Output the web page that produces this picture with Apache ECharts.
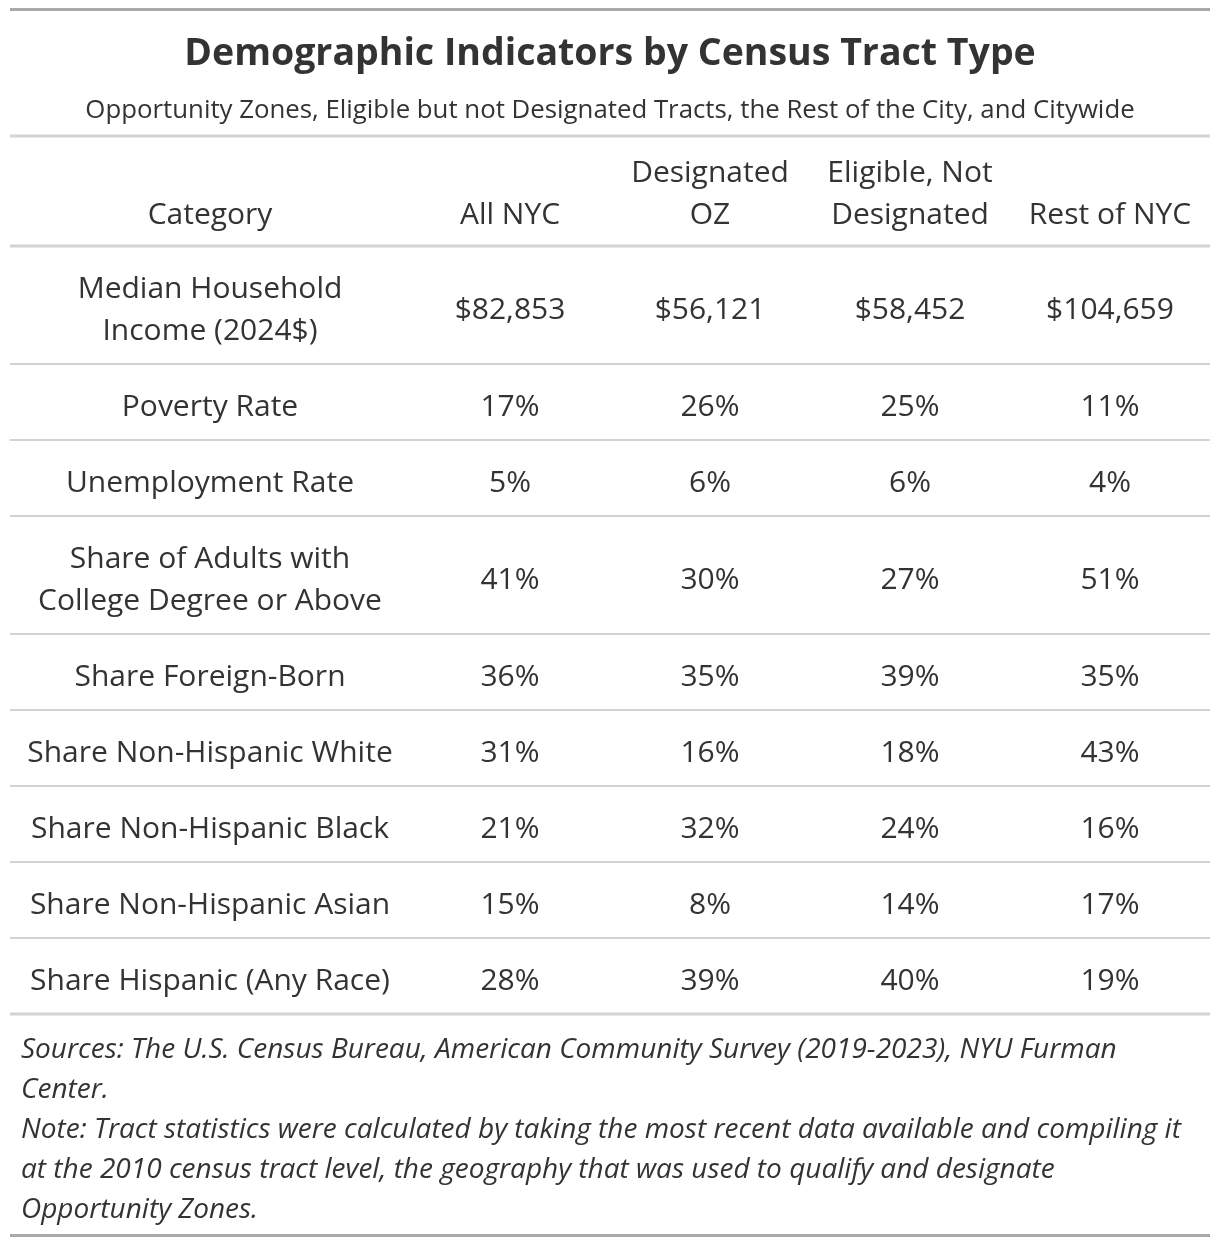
<!DOCTYPE html>
<html>
<head>
<meta charset="utf-8">
<script src="https://cdn.jsdelivr.net/npm/echarts@6/dist/echarts.min.js"></script>
<style>html,body{margin:0;padding:0;background:#fff;}#chart{width:1220px;height:1246px;}</style>
</head>
<body>
<div id="chart"></div>
<script>
const titleText = 'Demographic Indicators by Census Tract Type';
const subtitleText = 'Opportunity Zones, Eligible but not Designated Tracts, the Rest of the City, and Citywide';
const columns = ['Category', 'All NYC', 'Designated\nOZ', 'Eligible, Not\nDesignated', 'Rest of NYC'];
const categories = [
  'Median Household\nIncome (2024$)',
  'Poverty Rate',
  'Unemployment Rate',
  'Share of Adults with\nCollege Degree or Above',
  'Share Foreign-Born',
  'Share Non-Hispanic White',
  'Share Non-Hispanic Black',
  'Share Non-Hispanic Asian',
  'Share Hispanic (Any Race)'
];
const allNYC = ['$82,853', '17%', '5%', '41%', '36%', '31%', '21%', '15%', '28%'];
const designatedOZ = ['$56,121', '26%', '6%', '30%', '35%', '16%', '32%', '8%', '39%'];
const eligibleNotDesignated = ['$58,452', '25%', '6%', '27%', '39%', '18%', '24%', '14%', '40%'];
const restOfNYC = ['$104,659', '11%', '4%', '51%', '35%', '43%', '16%', '17%', '19%'];
const footnoteText = 'Sources: The U.S. Census Bureau, American Community Survey (2019-2023), NYU Furman\nCenter.\nNote: Tract statistics were calculated by taking the most recent data available and compiling it\nat the 2010 census tract level, the geography that was used to qualify and designate\nOpportunity Zones.';

const FONT = 'Open Sans';
const TXT = '#333333';
const LIGHT = '#d3d3d3';
const DARK = '#a9a9a9';
const LINE_H = 42;
const BODY_FONT = '30px "' + FONT + '"';
const colWidths = [400, 200, 200, 200, 200];
const tableW = colWidths.reduce((a, b) => a + b, 0);

// table rows: header + body
const rows = [columns];
for (let i = 0; i < categories.length; i++) {
  rows.push([categories[i], allNYC[i], designatedOZ[i], eligibleNotDesignated[i], restOfNYC[i]]);
}
const lineCount = r => Math.max(...r.map(t => t.split('\n').length));
const rowHeights = rows.map((r, i) => lineCount(r) * LINE_H + (i === 0 ? 26 : 34));
const rowTops = [];
let acc = 0;
rowHeights.forEach(h => { rowTops.push(acc); acc += h; });
const tableH = acc;
const colLefts = [];
let ax = 0;
colWidths.forEach(w => { colLefts.push(ax); ax += w; });

const cells = [];
rows.forEach((r, ri) => r.forEach((t, ci) => cells.push({ value: [ci, ri], text: t })));

function renderItem(params, api) {
  const cell = cells[params.dataIndex];
  const ci = cell.value[0], ri = cell.value[1];
  const top = rowTops[ri], h = rowHeights[ri];
  const xc = colLefts[ci] + colWidths[ci] / 2;
  const children = [];
  let p;
  if (ri === 0) {
    p = api.coord([xc, top + h]);
    children.push({
      type: 'text',
      style: { text: cell.text, x: p[0], y: p[1] - 10, align: 'center', verticalAlign: 'bottom',
        font: BODY_FONT, lineHeight: LINE_H, fill: TXT }
    });
  } else {
    p = api.coord([xc, top + h / 2]);
    children.push({
      type: 'text',
      style: { text: cell.text, x: p[0], y: p[1] + 5, align: 'center', verticalAlign: 'middle',
        font: BODY_FONT, lineHeight: LINE_H, fill: TXT }
    });
  }
  if (ci === 0) {
    const a = api.coord([0, top + h]);
    const b = api.coord([tableW, top + h]);
    const last = ri === rows.length - 1;
    children.push({
      type: 'line',
      shape: { x1: a[0], y1: a[1], x2: b[0], y2: b[1] },
      style: { stroke: LIGHT, lineWidth: (ri === 0 || last) ? 3 : 2 }
    });
    if (ri === 0) {
      const t1 = api.coord([0, 0]);
      const t2 = api.coord([tableW, 0]);
      children.push({
        type: 'line',
        shape: { x1: t1[0], y1: t1[1], x2: t2[0], y2: t2[1] },
        style: { stroke: LIGHT, lineWidth: 3 }
      });
    }
  }
  return { type: 'group', children };
}

const chart = echarts.init(document.getElementById('chart'), null, { renderer: 'canvas' });
chart.setOption({
  backgroundColor: '#ffffff',
  animation: false,
  title: [
    { text: titleText, left: 'center', top: 27,
      textStyle: { fontFamily: FONT, fontSize: 37.5, fontWeight: 'bold', color: TXT, lineHeight: 44 } },
    { text: subtitleText, left: 'center', top: 91,
      textStyle: { fontFamily: FONT, fontSize: 25.8, fontWeight: 'normal', color: TXT, lineHeight: 30 } },
    { text: footnoteText, left: 16, top: 1025,
      textStyle: { fontFamily: FONT, fontSize: 28, fontWeight: 'normal', fontStyle: 'italic', color: TXT, lineHeight: 40 } }
  ],
  grid: { left: 10, top: 136, width: tableW, height: tableH, containLabel: false },
  xAxis: { type: 'value', min: 0, max: tableW, show: false },
  yAxis: { type: 'value', min: 0, max: tableH, inverse: true, show: false },
  series: [{
    type: 'custom',
    coordinateSystem: 'cartesian2d',
    clip: false,
    silent: true,
    data: cells,
    renderItem: renderItem
  }],
  graphic: [
    { type: 'line', shape: { x1: 10, y1: 9.5, x2: 1210, y2: 9.5 }, style: { stroke: DARK, lineWidth: 3 } },
    { type: 'line', shape: { x1: 10, y1: 1235.5, x2: 1210, y2: 1235.5 }, style: { stroke: DARK, lineWidth: 3 } }
  ]
});
</script>
</body>
</html>
